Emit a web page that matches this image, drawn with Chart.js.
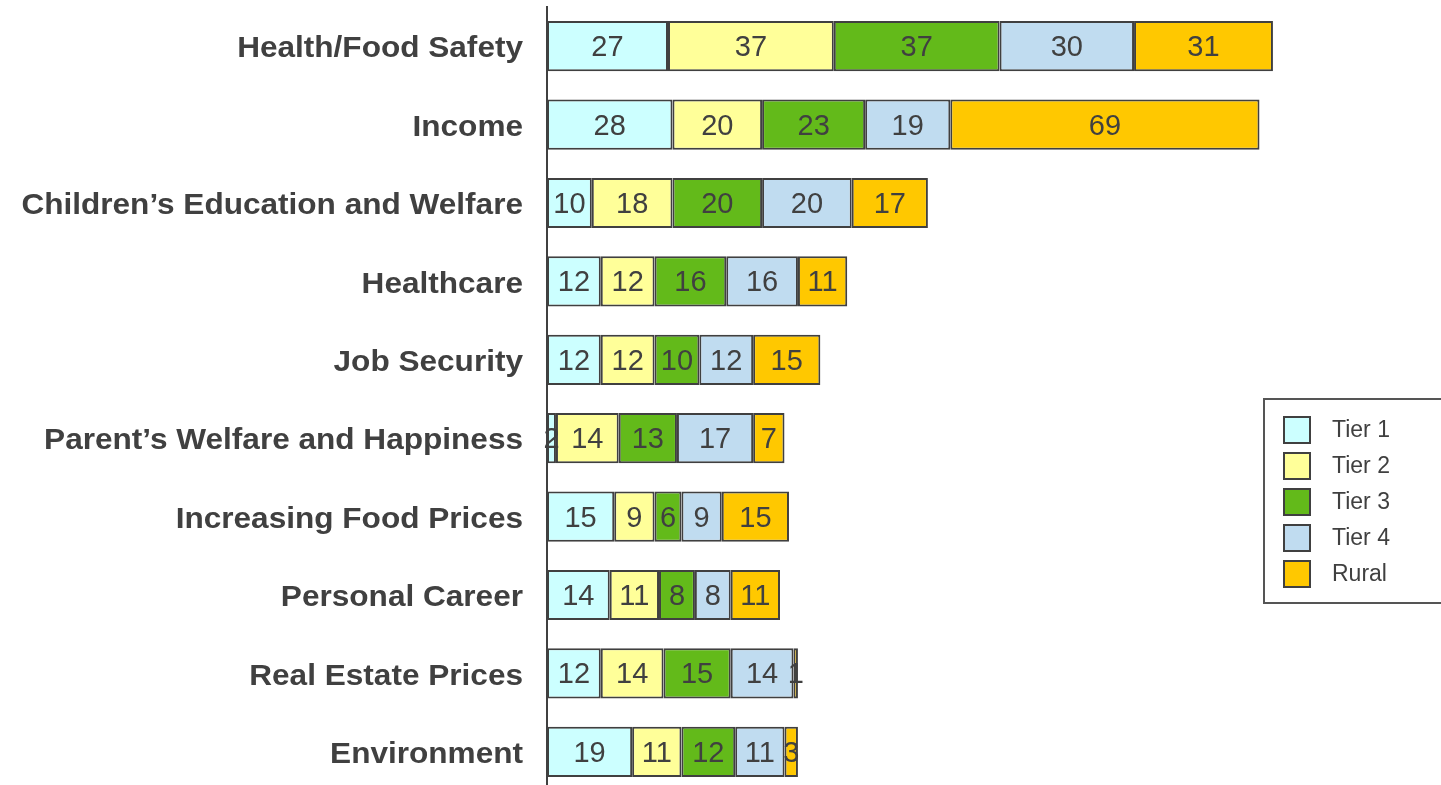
<!DOCTYPE html>
<html><head><meta charset="utf-8">
<script src="https://cdn.jsdelivr.net/npm/chart.js@4/dist/chart.umd.min.js"></script>
<style>html,body{margin:0;padding:0;background:#fff;overflow:hidden}#wrap{width:1441px;height:791px;position:relative}</style>
</head><body><div id="wrap"><canvas id="c"></canvas></div>
<script>
const categories = ["Health/Food Safety","Income","Children\u2019s Education and Welfare","Healthcare","Job Security","Parent\u2019s Welfare and Happiness","Increasing Food Prices","Personal Career","Real Estate Prices","Environment"];
const seriesNames = ["Tier 1","Tier 2","Tier 3","Tier 4","Rural"];
const tier1 = [27,28,10,12,12,2,15,14,12,19];
const tier2 = [37,20,18,12,12,14,9,11,14,11];
const tier3 = [37,23,20,16,10,13,6,8,15,12];
const tier4 = [30,19,20,16,12,17,9,8,14,11];
const rural = [31,69,17,11,15,7,15,11,1,3];
const colors = ["#CCFFFF","#FFFF99","#63BA1A","#C0DCF0","#FFC800"];
const values = [tier1,tier2,tier3,tier4,rural];

const TXT = "#404040";
const FAM = "'Liberation Sans', Arial, sans-serif";
const labelPlugin = {
  id:'vals',
  afterDatasetsDraw(chart){
    const ctx = chart.ctx;
    ctx.save();
    ctx.font = "29px " + FAM;
    ctx.fillStyle = TXT;
    ctx.textAlign = 'center';
    ctx.textBaseline = 'middle';
    chart.data.datasets.forEach((ds,i)=>{
      const meta = chart.getDatasetMeta(i);
      meta.data.forEach((bar,j)=>{
        const x = (bar.x + bar.base)/2;
        ctx.fillText(String(ds.data[j]), x, bar.y+2);
      });
    });
    ctx.restore();
  }
};
const catLabelPlugin = {
  id:'catLabels',
  afterDraw(chart){
    const ctx = chart.ctx, s = chart.scales.y;
    ctx.save();
    ctx.font = "bold 29.5px " + FAM;
    ctx.fillStyle = TXT;
    ctx.textAlign = 'right';
    ctx.textBaseline = 'middle';
    s.ticks.forEach((t,i)=>{
      const y = s.getPixelForTick(i);
      ctx.save();
      ctx.translate(s.right - 24, y + 3);
      ctx.scale(1.07, 1);
      ctx.fillText(s.getLabelForValue(t.value), 0, 0);
      ctx.restore();
    });
    ctx.restore();
  }
};
const legendPlugin = {
  id:'boxLegend',
  afterDraw(chart){
    const ctx = chart.ctx;
    ctx.save();
    ctx.strokeStyle = "#555";
    ctx.lineWidth = 2;
    ctx.fillStyle = "#fff";
    ctx.fillRect(1264,399,190,204);
    ctx.strokeRect(1264,399,190,204);
    ctx.font = "23px " + FAM;
    ctx.textBaseline = 'middle';
    ctx.textAlign = 'left';
    chart.data.datasets.forEach((ds,i)=>{
      const y = 430 + i*36;
      ctx.fillStyle = ds.backgroundColor;
      ctx.fillRect(1284,y-13,26,26);
      ctx.strokeStyle = "#404040";
      ctx.lineWidth = 2;
      ctx.strokeRect(1284,y-13,26,26);
      ctx.fillStyle = TXT;
      ctx.fillText(ds.label, 1332, y+1);
    });
    ctx.restore();
  }
};

new Chart(document.getElementById('c'), {
  type:'bar',
  data:{
    labels: categories,
    datasets: seriesNames.map((n,i)=>({
      label:n, data:values[i], backgroundColor:colors[i],
      borderColor:"#404040", borderWidth:2, borderSkipped:false,
      categoryPercentage:1, barPercentage:0.64
    }))
  },
  options:{
    indexAxis:'y', responsive:true, maintainAspectRatio:false, animation:false,
    layout:{padding:{top:7,right:0,bottom:0,left:0}},
    plugins:{legend:{display:false}, tooltip:{enabled:false}},
    scales:{
      x:{stacked:true, display:false, min:0, max:199.5},
      y:{stacked:true, position:'left',
        afterFit(s){ s.width = 547; s.paddingTop = 0; s.paddingBottom = 0; },
        grid:{display:true, color:'transparent', drawTicks:false},
        border:{display:true, color:"#404040", width:2},
        ticks:{padding:24, color:'transparent', font:{family:FAM, size:28, weight:'bold'}}
      }
    }
  },
  plugins:[labelPlugin, catLabelPlugin, legendPlugin]
});
</script></body></html>
